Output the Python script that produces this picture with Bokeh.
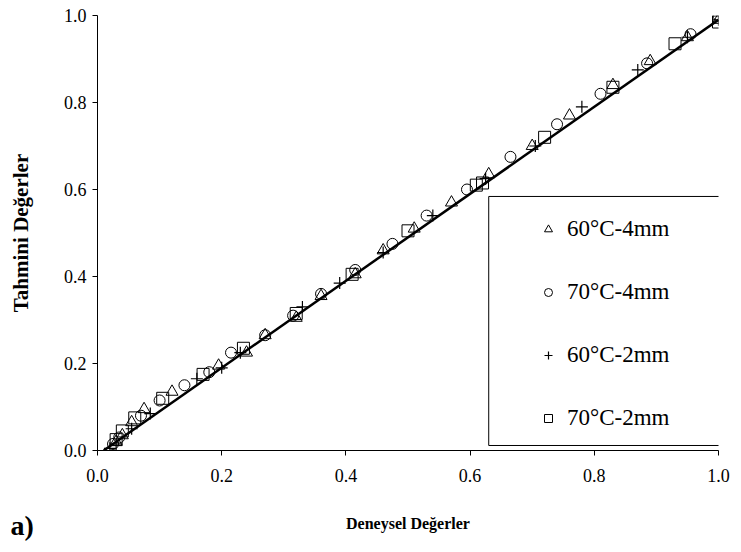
from bokeh.plotting import figure
from bokeh.models import Range1d, FixedTicker, NumeralTickFormatter, Legend, LegendItem, BoxAnnotation, Label
from bokeh.embed import file_html
from bokeh.resources import INLINE

# ---- data ----
tri_x = [0.03, 0.04, 0.055, 0.075, 0.12, 0.195, 0.24, 0.27, 0.32, 0.36, 0.415, 0.46, 0.51, 0.57, 0.63, 0.70, 0.76, 0.83, 0.89, 0.95, 1.0]
tri_y = [0.02, 0.035, 0.065, 0.095, 0.135, 0.195, 0.225, 0.265, 0.305, 0.355, 0.405, 0.46, 0.51, 0.57, 0.635, 0.70, 0.77, 0.84, 0.895, 0.95, 0.99]
cir_x = [0.025, 0.035, 0.07, 0.10, 0.14, 0.18, 0.215, 0.27, 0.315, 0.36, 0.415, 0.475, 0.53, 0.595, 0.665, 0.74, 0.81, 0.885, 0.955, 1.0]
cir_y = [0.015, 0.03, 0.08, 0.115, 0.15, 0.18, 0.225, 0.265, 0.31, 0.36, 0.415, 0.475, 0.54, 0.60, 0.675, 0.75, 0.82, 0.89, 0.957, 1.0]
plus_x = [0.02, 0.03, 0.055, 0.085, 0.16, 0.20, 0.23, 0.33, 0.39, 0.46, 0.54, 0.625, 0.705, 0.78, 0.87, 0.95, 1.0]
plus_y = [0.005, 0.015, 0.05, 0.085, 0.165, 0.19, 0.225, 0.33, 0.385, 0.455, 0.54, 0.625, 0.70, 0.79, 0.875, 0.95, 0.99]
sq_x = [0.03, 0.04, 0.06, 0.105, 0.17, 0.235, 0.32, 0.41, 0.50, 0.61, 0.62, 0.72, 0.83, 0.93, 1.0]
sq_y = [0.025, 0.045, 0.075, 0.12, 0.175, 0.235, 0.315, 0.405, 0.505, 0.61, 0.615, 0.72, 0.835, 0.935, 0.985]
fit_x = [0.01, 1.0]
fit_y = [0.0, 0.99]

series_labels = ["60°C-4mm", "70°C-4mm", "60°C-2mm", "70°C-2mm"]
ticks = [0.0, 0.2, 0.4, 0.6, 0.8, 1.0]

SERIF = "Liberation Serif"

p = figure(width=741, height=552, output_backend="svg", toolbar_location=None,
           x_range=Range1d(0, 1), y_range=Range1d(0, 1),
           min_border_left=97, min_border_right=19, min_border_top=15, min_border_bottom=102)
p.outline_line_color = None
p.xgrid.visible = False
p.ygrid.visible = False
p.background_fill_color = "white"
p.border_fill_color = "white"

for ax in (p.xaxis[0], p.yaxis[0]):
    ax.ticker = FixedTicker(ticks=ticks)
    ax.formatter = NumeralTickFormatter(format="0.0")
    ax.major_label_text_font = SERIF
    ax.major_label_text_font_size = "18px"
    ax.major_label_text_color = "black"
    ax.axis_line_color = "black"
    ax.major_tick_line_color = "black"
    ax.minor_tick_line_color = None
    ax.major_tick_in = 0
    ax.major_tick_out = 5
    ax.axis_label_text_font = SERIF
    ax.axis_label_text_font_style = "bold"
    ax.axis_label_text_color = "black"

p.xaxis.axis_label = "Deneysel Değerler"
p.yaxis.axis_label = "Tahmini Değerler"
p.xaxis.axis_label_text_font_size = "16px"
p.yaxis.axis_label_text_font_size = "21px"
p.xaxis.major_label_standoff = 13
p.xaxis.axis_label_standoff = 30
p.yaxis.major_label_standoff = 6
p.yaxis.axis_label_standoff = 28

p.line(fit_x, fit_y, line_color="black", line_width=2.5)

r1 = p.scatter(tri_x, tri_y, marker="triangle", size=12, fill_color=None, line_color="black", line_width=1)
r2 = p.scatter(cir_x, cir_y, marker="circle", size=11, fill_color=None, line_color="black", line_width=1)
r3 = p.scatter(plus_x, plus_y, marker="cross", size=12, fill_color=None, line_color="black", line_width=1.2)
r4 = p.scatter(sq_x, sq_y, marker="square", size=12, fill_color=None, line_color="black", line_width=1)

box = BoxAnnotation(left=0.630, right=1.004, bottom=0.0115, top=0.584,
                    fill_alpha=0, line_color="black", line_alpha=1, line_width=1)
p.add_layout(box)

legend = Legend(items=[LegendItem(label=l, renderers=[r]) for l, r in zip(series_labels, [r1, r2, r3, r4])],
                location=(441, 18), border_line_color=None, background_fill_alpha=0,
                padding=0, margin=0, spacing=35, glyph_width=20, glyph_height=28, label_height=28,
                label_standoff=9, label_text_font=SERIF, label_text_font_size="23px",
                label_text_color="black")
p.add_layout(legend)

p.add_layout(Label(x=10, y=525, x_units="canvas", y_units="canvas", text="a)",
                   text_font=SERIF, text_font_style="bold", text_baseline="middle",
                   text_font_size="28px", text_color="black"), "right")

open("out.html", "w").write(file_html(p, INLINE))
